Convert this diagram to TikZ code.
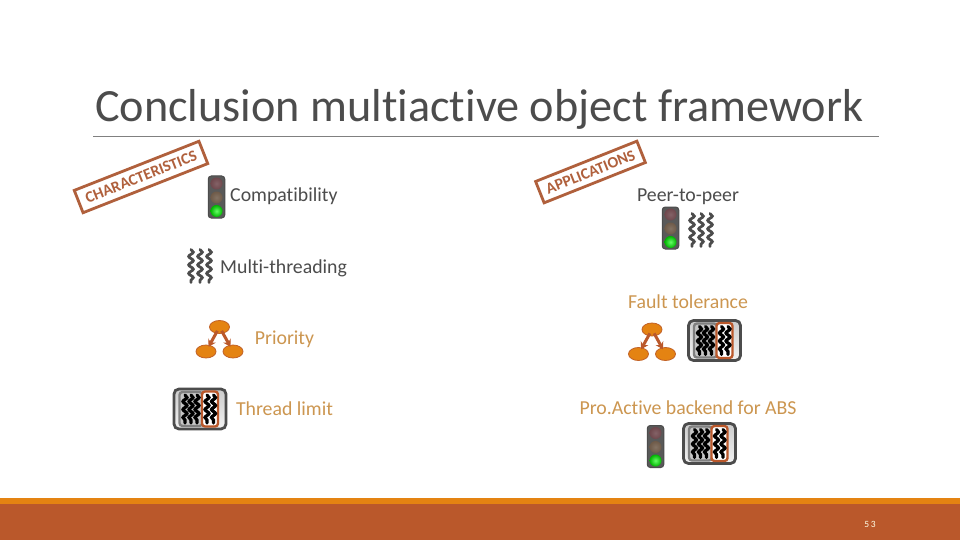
\documentclass[tikz,border=0pt]{standalone}
\usepackage{fontspec}
\setmainfont{Carlito}[Ligatures={NoCommon}]
\usetikzlibrary{decorations.pathmorphing,arrows.meta,shadings,shapes.geometric}
\definecolor{rust}{HTML}{BA582B}
\definecolor{stamp}{HTML}{B0603C}
\definecolor{amber}{HTML}{E48312}
\definecolor{labelorange}{HTML}{CC9650}
\definecolor{ink}{HTML}{4C4C4C}
\definecolor{lampred}{HTML}{6E474C}
\definecolor{lampbrown}{HTML}{6E5A48}
\tikzset{
  x=1pt,y=-1pt,
  lab/.style={font=\fontsize{19.8}{20}\selectfont,text=ink,inner sep=0pt},
  olab/.style={lab,text=labelorange},
  stampbox/.style={draw=stamp,line width=2.8pt,inner sep=0pt,text=stamp,font=\fontsize{15.8}{16}\selectfont\bfseries},
  wiggle/.style={decorate,decoration={snake,amplitude=2.3pt,segment length=8.5pt},line width=2.8pt,line cap=round},
  lamp/.style={circle,inner sep=0pt,minimum size=12pt},
  treenode/.style={ellipse,draw=rust!80!amber,line width=.8pt,fill=amber,minimum width=20pt,minimum height=13pt,inner sep=0pt},
  treelink/.style={draw=rust,line width=3pt,-{Stealth[length=7pt,width=8.5pt]},shorten <=-3pt,shorten >=-2pt},
  light/.pic={
    \node[draw=black!70,line width=1pt,fill=black!65,rounded corners=3pt,minimum width=16.5pt,minimum height=42pt,inner sep=0pt] (-case) at (0,0) {};
    \node[lamp,inner color=lampred!85!white,outer color=lampred] (-red) at (0,-13.5) {};
    \node[lamp,inner color=lampbrown!85!white,outer color=lampbrown] (-amber) at (0,0.5) {};
    \node[lamp,inner color=green!60!white,outer color=green!70!black] (-green) at (0,14) {};
  },
  threads/.pic={
    \foreach \dx in {-9,0,9}{
      \draw[wiggle,draw=ink] (\dx,-16.5) -- (\dx,16.5);
    }
  },
  tree/.pic={
    \node[treenode] (-left) at (-13.5,24.5) {};
    \node[treenode] (-right) at (13.5,24.5) {};
    \node[treenode] (-top) at (0,0) {};
    \draw[treelink] (-top) -- (-left);
    \draw[treelink] (-top) -- (-right);
  },
  pool/.pic={
    \node[draw=ink,line width=2.8pt,rounded corners=5pt,top color=gray!40,bottom color=gray!10,minimum width=52pt,minimum height=40pt,inner sep=0pt] (-outer) at (0,0) {};
    \node[draw=gray,line width=2.4pt,fill=gray!45,rounded corners=3pt,minimum width=23pt,minimum height=34pt,inner sep=0pt] (-pool) at (-9,0) {};
    \node[draw=rust,line width=2.4pt,fill=white,rounded corners=3pt,minimum width=16pt,minimum height=35pt,inner sep=0pt] (-limit) at (10,0) {};
    \foreach \dx in {-15,-9,-3,7,13.5}{
      \draw[wiggle,draw=black,line width=3.2pt,decoration={segment length=8pt,amplitude=2pt}] (\dx,-14) -- (\dx,14);
    }
  }
}
\begin{document}
\begin{tikzpicture}
\useasboundingbox (0,0) rectangle (960,540);
\fill[white] (0,0) rectangle (960,540);
\fill[rust] (0,504) rectangle (960,540);
\fill[amber] (0,498) rectangle (960,504);
\node[anchor=base west,inner sep=0pt,text=ink,font=\fontsize{46.2}{47}\selectfont] (title) at (95,122) {Conclusion multiactive object framework};
\coordinate (ruleL) at (93,136.5);
\coordinate (ruleR) at (879,136.5);
\draw[gray,line width=.9pt] (ruleL) -- (ruleR);
\node[stampbox,rotate=21.5,minimum width=134pt,minimum height=24pt] (stampC) at (141,177) {CHARACTERISTICS};
\node[stampbox,rotate=21.7,minimum width=109pt,minimum height=23pt] (stampA) at (590.5,172) {APPLICATIONS};
\pic (l1) at (216.5,197) {light};
\node[lab,anchor=west] (compat) at (230,196.5) {Compatibility};
\pic (th1) at (200,266) {threads};
\node[lab,anchor=west] (multi) at (220,268.5) {Multi-threading};
\pic (tr1) at (219.5,327) {tree};
\node[olab] (prio) at (284.5,339) {Priority};
\pic (p1) at (200,409) {pool};
\node[olab] (limit) at (284.5,408.5) {Thread limit};
\node[lab] (peer) at (688,196.5) {Peer-to-peer};
\pic (l2) at (670.5,228) {light};
\pic (th2) at (701,230) {threads};
\node[olab] (fault) at (688,301.5) {Fault tolerance};
\pic (tr2) at (652,329.5) {tree};
\pic (p2) at (714.5,340.5) {pool};
\node[olab] (proactive) at (688,408) {Pro.Active backend for ABS};
\pic (l3) at (655.5,446.5) {light};
\pic (p3) at (709.5,443.5) {pool};
\node[text=white!90!yellow,inner sep=0pt,font=\fontsize{9.5}{10}\selectfont] (num) at (870,524) {5\,3};
\end{tikzpicture}
\end{document}
